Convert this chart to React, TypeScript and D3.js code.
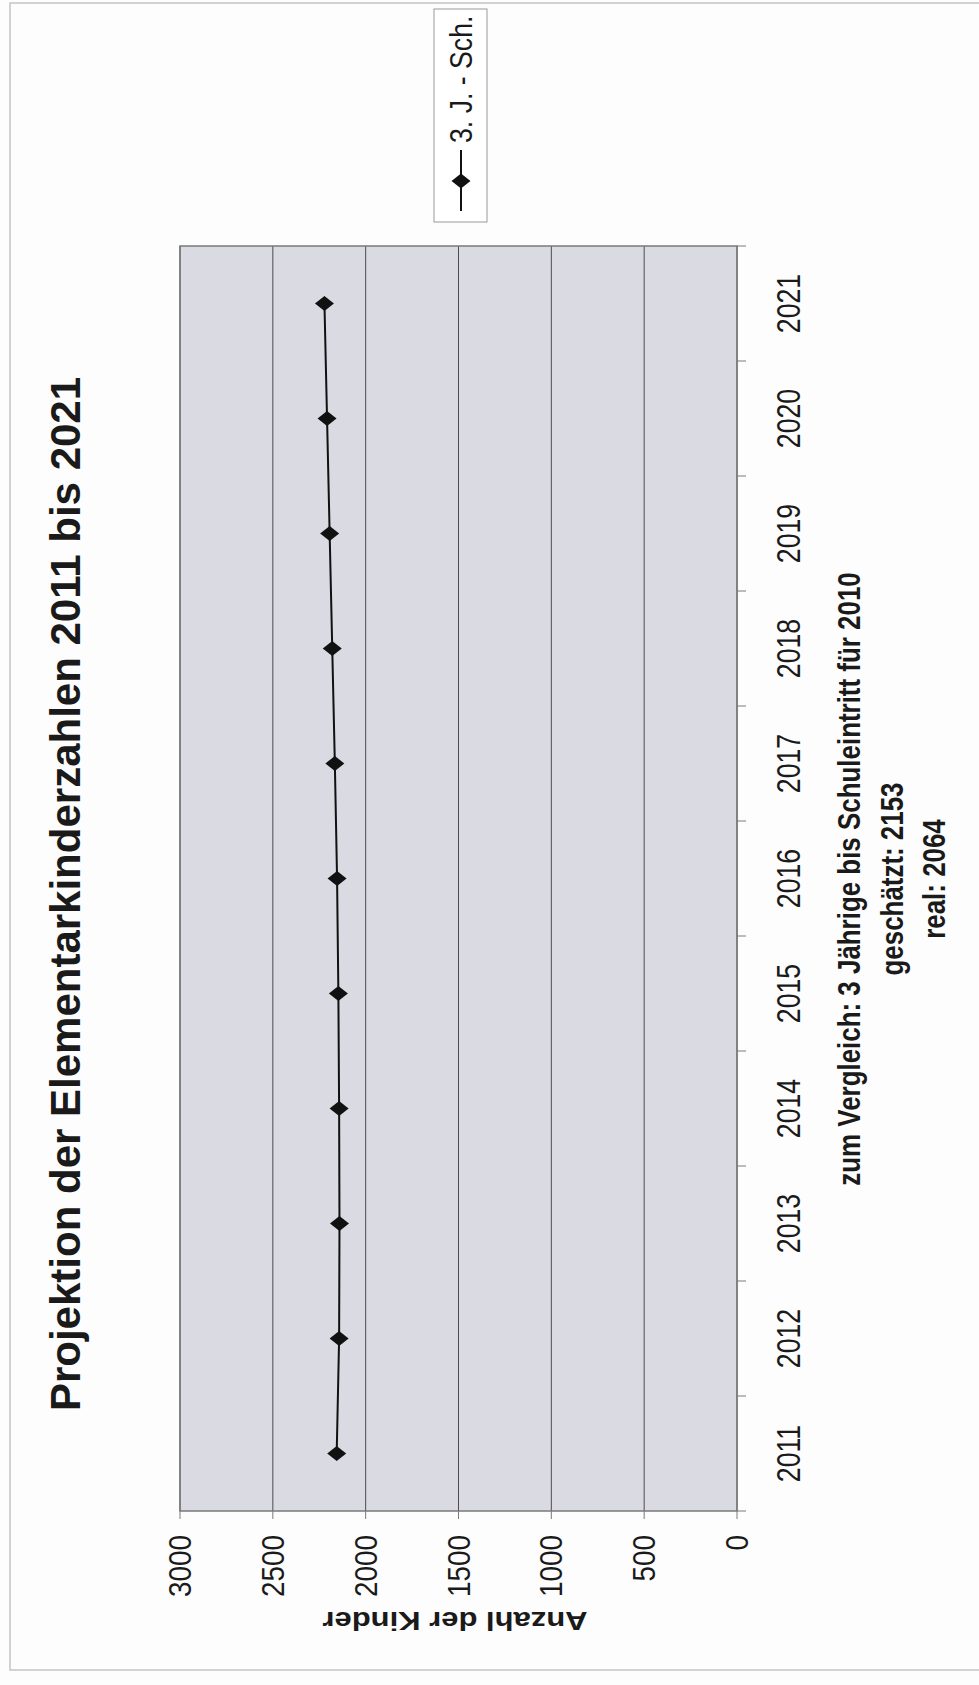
import React from 'react';
import * as d3 from 'd3';

// ---- data ----
const years: string[] = ['2011', '2012', '2013', '2014', '2015', '2016', '2017', '2018', '2019', '2020', '2021'];
const values: number[] = [2156, 2143, 2141, 2143, 2147, 2154, 2166, 2180, 2194, 2208, 2222];
const valueTicks: number[] = [0, 500, 1000, 1500, 2000, 2500, 3000];
const seriesName = '3. J. - Sch.';
const chartTitle = 'Projektion der Elementarkinderzahlen 2011 bis 2021';
const valueAxisTitle = 'Anzahl der Kinder';
const noteLines: string[] = [
  'zum Vergleich: 3 Jährige bis Schuleintritt für 2010',
  'geschätzt: 2153',
  'real: 2064',
];

// ---- layout (in the rotated frame: u = horizontal, v = vertical) ----
const PAGE_W = 979;
const PAGE_H = 1685;
const plot = { uL: 174, uR: 1439, vT: 180, vB: 737 };
const SX = 0.81; // horizontal compression of glyphs seen in the scan
const FONT = "'Liberation Sans', Arial, Helvetica, sans-serif";

export default function App() {
  const x = d3.scaleBand<string>().domain(years).range([plot.uL, plot.uR]).paddingInner(0).paddingOuter(0);
  const y = d3.scaleLinear().domain([0, 3000]).range([plot.vB, plot.vT]);
  const cx = (yr: string) => (x(yr) as number) + x.bandwidth() / 2;

  const line = d3
    .line<number>()
    .x((_, i) => cx(years[i]))
    .y((d) => y(d));

  const diamond = 'M0,-9.5 L7.5,0 L0,9.5 L-7.5,0 Z';
  const boundaries = years.map((yr) => x(yr) as number).concat([plot.uR]);

  const txt = (
    key: string | number,
    u: number,
    v: number,
    s: string,
    size: number,
    anchor: 'start' | 'middle' | 'end',
    bold = false,
    sx = SX
  ) => (
    <text
      key={key}
      transform={`translate(${u},${v}) scale(${sx},1)`}
      textAnchor={anchor}
      fontSize={size}
      fontWeight={bold ? 'bold' : 'normal'}
      fontFamily={FONT}
      fill="#1a1a1a"
    >
      {s}
    </text>
  );

  return (
    <svg
      width={PAGE_W}
      height={PAGE_H}
      style={{ position: 'absolute', left: 0, top: 0, background: '#fdfdfd' }}
    >
      <rect x={0} y={0} width={PAGE_W} height={PAGE_H} fill="#fdfdfd" />
      {/* chart area border */}
      <rect x={10} y={3} width={990} height={1667} fill="none" stroke="#c4c4c4" strokeWidth={1.5} />

      <g transform={`translate(0,${PAGE_H}) rotate(-90)`}>
        {/* plot area */}
        <rect
          x={plot.uL}
          y={plot.vT}
          width={plot.uR - plot.uL}
          height={plot.vB - plot.vT}
          fill="#d9dae2"
        />
        {/* gridlines */}
        {valueTicks.map((t) => (
          <line key={'g' + t} x1={plot.uL} x2={plot.uR} y1={y(t)} y2={y(t)} stroke="#4d4d4d" strokeWidth={1} />
        ))}
        <rect
          x={plot.uL}
          y={plot.vT}
          width={plot.uR - plot.uL}
          height={plot.vB - plot.vT}
          fill="none"
          stroke="#7a7a7a"
          strokeWidth={1.5}
        />
        {/* value axis ticks and labels */}
        {valueTicks.map((t) => (
          <line key={'vt' + t} x1={plot.uL - 8} x2={plot.uL} y1={y(t)} y2={y(t)} stroke="#7a7a7a" strokeWidth={1} />
        ))}
        {valueTicks.map((t) => txt('vl' + t, plot.uL - 24, y(t) + 11, String(t), 31, 'end', false, 0.9))}
        {/* category axis ticks and labels */}
        {boundaries.map((b, i) => (
          <line key={'ct' + i} x1={b} x2={b} y1={plot.vB} y2={plot.vB + 9} stroke="#7a7a7a" strokeWidth={1} />
        ))}
        {years.map((yr) => txt('cl' + yr, cx(yr), 800, yr, 33, 'middle'))}

        {/* series */}
        <path d={line(values) || ''} fill="none" stroke="#111" strokeWidth={2} />
        {values.map((v, i) => (
          <path key={'m' + i} d={diamond} transform={`translate(${cx(years[i])},${y(v)})`} fill="#111" />
        ))}

        {/* title */}
        {txt('title', 791, 80, chartTitle, 42, 'middle', true, 1)}

        {/* value axis title (rotated) */}
        <text
          transform={`translate(73,455) scale(${SX},1) rotate(-90)`}
          textAnchor="middle"
          fontSize={31}
          fontWeight="bold"
          fontFamily={FONT}
          fill="#1a1a1a"
        >
          {valueAxisTitle}
        </text>

        {/* category axis title lines */}
        {noteLines.map((s, i) => txt('n' + i, 806, 860 + i * 42.5, s, 32, 'middle', true))}

        {/* legend */}
        <rect x={1463} y={434} width={213} height={53} fill="#fff" stroke="#9a9a9a" strokeWidth={1} />
        <line x1={1474} x2={1535} y1={461} y2={461} stroke="#111" strokeWidth={2} />
        <path d={diamond} transform="translate(1504,461)" fill="#111" />
        {txt('leg', 1542, 472, seriesName, 31, 'start', false, 0.86)}
      </g>
    </svg>
  );
}
